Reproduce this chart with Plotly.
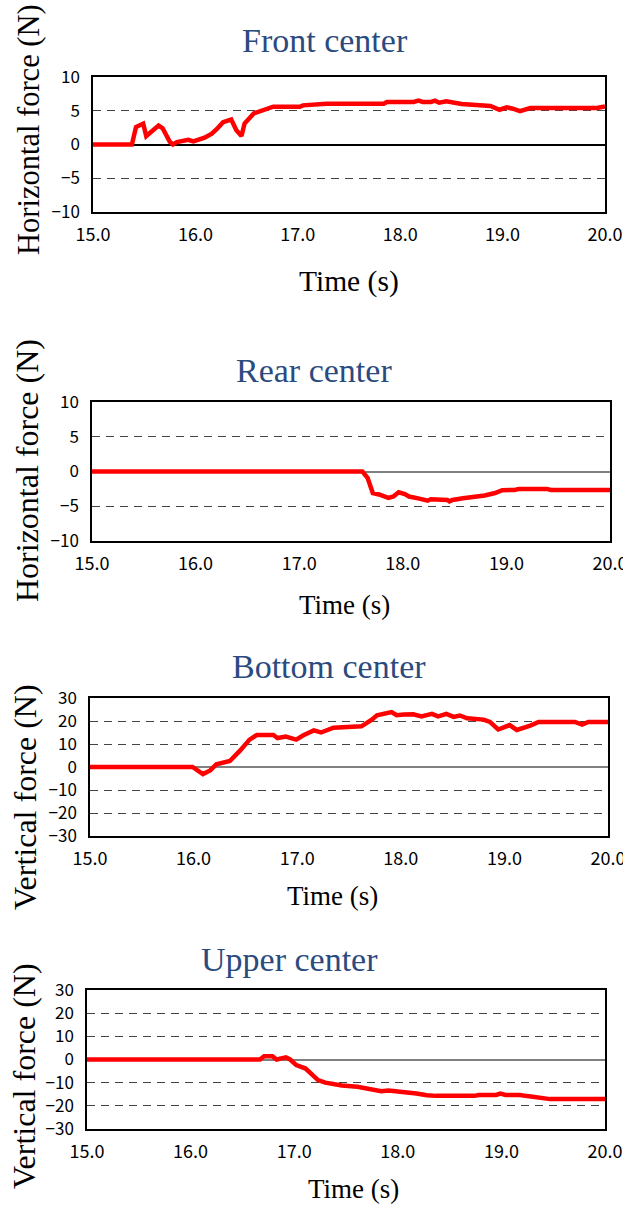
import plotly.graph_objects as go

W, H = 623, 1205

# ---------------- data ----------------
t_front = [15.0, 15.38, 15.42, 15.49, 15.52, 15.58, 15.64, 15.68, 15.75, 15.78, 15.82, 15.93, 15.98,
           16.09, 16.16, 16.21, 16.27, 16.35, 16.40, 16.45, 16.48, 16.57, 16.68, 16.76, 17.02,
           17.05, 17.28, 17.84, 17.87, 18.13, 18.18, 18.22, 18.30, 18.34, 18.38, 18.45, 18.60,
           18.80, 18.88, 18.97, 19.04, 19.10, 19.17, 19.27, 19.92, 20.0]
f_front = [0, 0, 2.6, 3.1, 1.25, 2.0, 2.8, 2.4, 0.4, 0.0, 0.35, 0.7, 0.45,
           1.0, 1.6, 2.3, 3.3, 3.7, 2.1, 1.25, 3.1, 4.6, 5.1, 5.6, 5.6,
           5.8, 6.05, 6.05, 6.3, 6.3, 6.5, 6.3, 6.3, 6.5, 6.2, 6.4, 6.0,
           5.9, 5.7, 5.15, 5.5, 5.3, 4.95, 5.4, 5.4, 5.65]

t_rear = [15.0, 17.61, 17.66, 17.71, 17.77, 17.86, 17.91, 17.96, 18.02, 18.06, 18.16, 18.24, 18.27,
          18.43, 18.45, 18.48, 18.58, 18.70, 18.79, 18.89, 18.96, 19.08, 19.12, 19.39, 19.43, 20.0]
f_rear = [0, 0, -0.9, -3.1, -3.3, -3.8, -3.6, -3.0, -3.25, -3.6, -3.9, -4.2, -4.0,
          -4.1, -4.3, -4.1, -3.85, -3.7, -3.45, -3.1, -2.7, -2.65, -2.5, -2.5, -2.65, -2.65]

t_bottom = [15.0, 15.99, 16.09, 16.16, 16.22, 16.30, 16.35, 16.45, 16.54, 16.61, 16.77, 16.81, 16.89,
            16.99, 17.06, 17.16, 17.23, 17.35, 17.50, 17.60, 17.62, 17.72, 17.77, 17.91, 17.96, 18.03,
            18.12, 18.20, 18.30, 18.36, 18.44, 18.51, 18.57, 18.64, 18.80, 18.86, 18.94, 19.05, 19.12,
            19.25, 19.33, 19.68, 19.75, 19.81, 20.0]
f_bottom = [0, 0, -3.1, -1.5, 1.2, 2.2, 2.6, 7.2, 11.9, 13.9, 13.9, 12.6, 13.2,
            11.9, 13.8, 15.9, 15.0, 17.1, 17.4, 18.0, 17.7, 20.6, 22.5, 23.9, 22.5, 22.8,
            22.9, 22.0, 23.1, 22.0, 23.1, 21.8, 22.4, 21.2, 20.6, 19.6, 16.3, 18.2, 16.1,
            18.0, 19.6, 19.6, 18.4, 19.6, 19.6]

t_upper = [15.0, 16.67, 16.71, 16.79, 16.83, 16.87, 16.92, 16.96, 17.02, 17.11, 17.23, 17.30, 17.46,
           17.61, 17.76, 17.84, 17.91, 18.07, 18.18, 18.28, 18.37, 18.74, 18.78, 18.95, 18.99, 19.04,
           19.18, 19.25, 19.43, 19.47, 20.0]
f_upper = [0, 0, 1.4, 1.4, 0, 0.3, 0.9, 0, -2.4, -3.9, -8.9, -10.0, -11.2,
           -11.8, -13.0, -13.7, -13.4, -14.0, -14.7, -15.4, -15.7, -15.7, -15.3, -15.3, -14.7, -15.3,
           -15.3, -15.8, -16.5, -17.1, -17.1]

titles = ["Front center", "Rear center", "Bottom center", "Upper center"]
ytitles = ["Horizontal force (N)", "Horizontal force (N)", "Vertical force (N)", "Vertical force (N)"]
xtitle = "Time (s)"
x_range = [15.0, 20.0]
y_ranges = [[-10, 10], [-10, 10], [-30, 30], [-30, 30]]
y_dticks = [5, 5, 10, 10]

series = [(t_front, f_front), (t_rear, f_rear), (t_bottom, f_bottom), (t_upper, f_upper)]

# ---------------- layout (pixel boxes) ----------------
boxes = [  # left, right, top, bottom in px
    (93, 605, 77, 212),
    (92, 610, 402, 541),
    (90, 608, 698, 836),
    (87, 605, 990, 1129),
]
title_pos = [(325, 41), (314, 370), (329, 666), (289, 960)]
ytitle_pos = [(29, 130), (27, 471), (25, 797), (24, 1076)]
ytitle_size = [30.5, 32, 32, 32]
xtitle_pos = [(349, 281), (344, 605), (332, 896), (353, 1189)]
xtitle_size = [29.5, 27, 27, 27]
zero_colors = ["#000000", "#808080", "#808080", "#808080"]

def px_x(x):
    return x / W

def px_y(y):
    return 1 - y / H

fig = go.Figure()
annotations = []
for i, ((t, f), (l, r, tp, bt)) in enumerate(zip(series, boxes)):
    n = "" if i == 0 else str(i + 1)
    fig.add_trace(go.Scatter(x=t, y=f, mode="lines", line=dict(color="#FF0000", width=4.5),
                             xaxis="x" + n, yaxis="y" + n, showlegend=False, hoverinfo="skip"))
    fig.layout["xaxis" + n] = dict(
        domain=[px_x(l), px_x(r)], anchor="y" + n, range=x_range, dtick=1, tick0=15,
        tickformat=".1f", showgrid=False, zeroline=False, showline=True, mirror=True,
        linecolor="#000000", linewidth=1.5, ticks="", ticklabelstandoff=6, automargin=False,
        ticklabeloverflow="allow",
        tickfont=dict(family="Noto Sans CJK JP", size=18, color="#000000"))
    fig.layout["yaxis" + n] = dict(
        domain=[px_y(bt), px_y(tp)], anchor="x" + n, range=y_ranges[i], dtick=y_dticks[i],
        showgrid=True, gridcolor="#444444", griddash="8px,6px", gridwidth=1.2,
        zeroline=True, zerolinecolor=zero_colors[i], zerolinewidth=1.5,
        showline=True, mirror=True, linecolor="#000000", linewidth=1.5, ticks="",
        ticklabelstandoff=8, automargin=False, ticklabeloverflow="allow",
        tickfont=dict(family="Noto Sans CJK JP", size=17, color="#000000"))
    annotations.append(dict(text=titles[i], x=px_x(title_pos[i][0]), y=px_y(title_pos[i][1]),
                            xref="paper", yref="paper", showarrow=False, xanchor="center",
                            yanchor="middle",
                            font=dict(family="Liberation Serif", size=34, color="#2B4A7E")))
    annotations.append(dict(text=ytitles[i], x=px_x(ytitle_pos[i][0]), y=px_y(ytitle_pos[i][1]),
                            xref="paper", yref="paper", showarrow=False, xanchor="center",
                            yanchor="middle", textangle=-90,
                            font=dict(family="Liberation Serif", size=ytitle_size[i], color="#000000")))
    annotations.append(dict(text=xtitle, x=px_x(xtitle_pos[i][0]), y=px_y(xtitle_pos[i][1]),
                            xref="paper", yref="paper", showarrow=False, xanchor="center",
                            yanchor="middle",
                            font=dict(family="Liberation Serif", size=xtitle_size[i], color="#000000")))

fig.update_layout(width=W, height=H, margin=dict(l=0, r=0, t=0, b=0, autoexpand=False),
                  template="none",
                  paper_bgcolor="#FFFFFF", plot_bgcolor="#FFFFFF", annotations=annotations)
fig.write_html("out.html")
